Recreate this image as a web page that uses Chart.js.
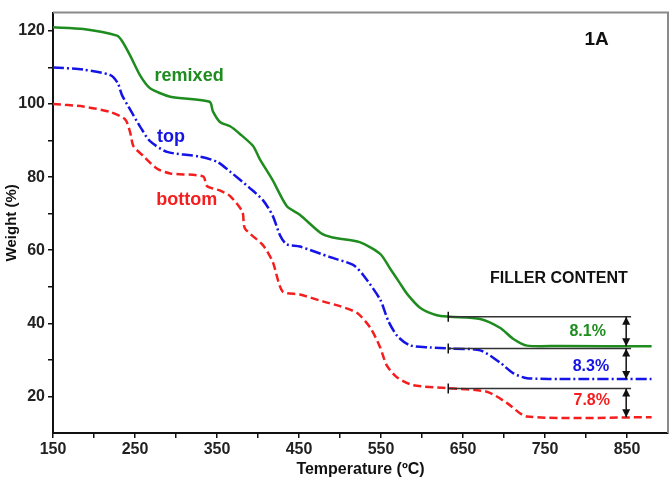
<!DOCTYPE html>
<html>
<head>
<meta charset="utf-8">
<script src="https://cdn.jsdelivr.net/npm/chart.js@4.4.0/dist/chart.umd.min.js"></script>
<style>
  html, body { margin: 0; padding: 0; background: #fff; }
  #wrap { width: 672px; height: 482px; }
</style>
</head>
<body>
<div id="wrap"><canvas id="tgaChart" width="672" height="482"></canvas></div>
<script>
// TGA curves
const tempRemixed = [150, 187, 228, 234, 244, 256, 268, 293, 341, 345, 354, 366, 378, 394, 402, 418, 435, 451, 476, 491, 524, 549, 561, 573, 582, 598, 618, 634, 671, 695, 711, 728, 768, 880];
const weightRemixed = [121, 120.5, 118.7, 117.3, 113.3, 107.9, 104.4, 102, 100.6, 98, 95, 93.9, 91.8, 88.5, 85, 79.1, 72.1, 69.7, 64.8, 63.5, 62.2, 59, 55, 51, 48, 44.2, 42.2, 41.8, 41.2, 38.8, 35.8, 33.9, 33.8, 33.7];

const tempTop = [150, 187, 220, 229, 234, 244, 256, 268, 289, 329, 350, 366, 390, 406, 418, 427, 435, 451, 488, 516, 528, 549, 559, 570, 585, 610, 634, 671, 695, 711, 728, 768, 880];
const weightTop = [110, 109.4, 107.9, 105.7, 102.5, 98.5, 93.9, 89.9, 86.9, 85.6, 84.2, 81.5, 77, 73.7, 69.4, 64, 61.6, 61, 58.1, 56, 53.3, 46.5, 40.6, 36.5, 34, 33.4, 33.1, 32.6, 29.3, 26.4, 25, 24.8, 24.8];

const tempBottom = [150, 187, 220, 238, 244, 248, 260, 277, 293, 333, 338, 354, 366, 381, 384, 406, 418, 430, 451, 479, 500, 521, 537, 549, 557, 569, 589, 630, 679, 703, 728, 880];
const weightBottom = [100, 99.3, 97.8, 95.8, 92.3, 88.5, 85.8, 82.3, 81, 80.2, 77.5, 76.3, 74.8, 70.5, 66, 61.4, 56.8, 48.7, 47.9, 46, 44.7, 42.8, 38.8, 33.4, 28.5, 25.3, 23.1, 22.3, 21.3, 18.3, 14.5, 14.3];

// axis ticks
const yTickValues = [20, 30, 40, 50, 60, 70, 80, 90, 100, 110, 120];
const xTickValues = [150, 200, 250, 300, 350, 400, 450, 500, 550, 600, 650, 700, 750, 800, 850];

// filler content markers
const fillerStart = 632;
const fillerEnd = 855;
const fillerArrowAt = 849;
const fillerLevels = [41.8, 33.1, 22.2];
const residueLevels = [33.7, 24.8, 14.3];
const fillerLabels = ['8.1%', '8.3%', '7.8%'];

const seriesNames = ['remixed', 'top', 'bottom'];
const seriesColors = ['#1e8c1e', '#1414e6', '#f51e1e'];

const toPoints = (xs, ys) => xs.map((x, i) => ({ x: x, y: ys[i] }));

const fillerLineSets = fillerLevels.map(level => ({
  data: [{ x: fillerStart, y: level }, { x: fillerEnd, y: level }],
  borderColor: '#333',
  borderWidth: 1.5,
  pointRadius: 0,
  tension: 0
}));

const curveSets = [
  { data: toPoints(tempRemixed, weightRemixed), borderColor: seriesColors[0], borderDash: [] },
  { data: toPoints(tempTop, weightTop), borderColor: seriesColors[1], borderDash: [11, 3, 2, 3] },
  { data: toPoints(tempBottom, weightBottom), borderColor: seriesColors[2], borderDash: [8, 4] }
].map((d, i) => Object.assign(d, {
  label: seriesNames[i],
  borderWidth: 2.5,
  pointRadius: 0,
  tension: 0.25
}));

const font = 'Liberation Sans, Arial, sans-serif';

const annotations = {
  id: 'annotations',
  afterDraw(chart) {
    const { ctx, chartArea, scales } = chart;
    const x = scales.x, y = scales.y;
    ctx.save();

    // gray box on top and right
    ctx.strokeStyle = '#8a8a8a';
    ctx.lineWidth = 2;
    ctx.beginPath();
    ctx.moveTo(chartArea.left, chartArea.top);
    ctx.lineTo(chartArea.right, chartArea.top);
    ctx.lineTo(chartArea.right, chartArea.bottom);
    ctx.stroke();

    // start marks and double arrows
    ctx.strokeStyle = '#111';
    ctx.fillStyle = '#111';
    ctx.lineWidth = 1.5;
    const ax = x.getPixelForValue(fillerArrowAt);
    fillerLevels.forEach((level, i) => {
      const sx = x.getPixelForValue(fillerStart);
      const sy = y.getPixelForValue(level);
      ctx.beginPath();
      ctx.moveTo(sx, sy - 5);
      ctx.lineTo(sx, sy + 5);
      ctx.stroke();

      const y1 = y.getPixelForValue(level);
      const y2 = y.getPixelForValue(residueLevels[i]);
      ctx.beginPath();
      ctx.moveTo(ax, y1);
      ctx.lineTo(ax, y2);
      ctx.stroke();
      [[y1, 1], [y2, -1]].forEach(([py, dir]) => {
        ctx.beginPath();
        ctx.moveTo(ax, py);
        ctx.lineTo(ax - 4, py + dir * 8);
        ctx.lineTo(ax + 4, py + dir * 8);
        ctx.closePath();
        ctx.fill();
      });
    });

    ctx.textAlign = 'center';
    ctx.textBaseline = 'middle';

    // curve names
    ctx.font = 'bold 18px ' + font;
    [[316, 107.6], [294, 90.9], [313, 73.7]].forEach((p, i) => {
      ctx.fillStyle = seriesColors[i];
      ctx.fillText(seriesNames[i], x.getPixelForValue(p[0]), y.getPixelForValue(p[1]));
    });

    // percentages
    ctx.font = 'bold 16px ' + font;
    [[802, 37.7], [806, 28.3], [807, 18.8]].forEach((p, i) => {
      ctx.fillStyle = seriesColors[i];
      ctx.fillText(fillerLabels[i], x.getPixelForValue(p[0]), y.getPixelForValue(p[1]));
    });

    ctx.fillStyle = '#111';
    ctx.font = 'bold 16px ' + font;
    ctx.fillText('FILLER CONTENT', x.getPixelForValue(767), y.getPixelForValue(52.2));
    ctx.font = 'bold 19px ' + font;
    ctx.fillText('1A', x.getPixelForValue(813), y.getPixelForValue(117.6));

    ctx.restore();
  }
};

const canvas = document.getElementById('tgaChart');
const ctx = canvas.getContext('2d');

window.tgaChart = new Chart(ctx, {
  type: 'line',
  data: { datasets: fillerLineSets.concat(curveSets) },
  options: {
    responsive: false,
    animation: false,
    layout: { padding: { top: 7, right: 4, left: 0, bottom: 0 } },
    plugins: {
      legend: { display: false },
      tooltip: { enabled: false }
    },
    scales: {
      x: {
        type: 'linear',
        min: 150,
        max: 900,
        afterFit: scale => { scale.height = 49; },
        afterBuildTicks: scale => { scale.ticks = xTickValues.map(v => ({ value: v })); },
        border: { color: '#111', width: 2 },
        grid: { drawOnChartArea: false, tickLength: 5, color: '#111', lineWidth: 1.5 },
        ticks: {
          padding: 2,
          maxRotation: 0,
          autoSkip: false,
          color: '#222',
          font: { family: font, size: 16, weight: 'bold' },
          callback: v => ((v - 150) % 100 === 0 ? v : '')
        },
        title: {
          display: true,
          text: 'Temperature (ºC)',
          color: '#111',
          font: { family: font, size: 16, weight: 'bold' },
          padding: { top: 0, bottom: 3 }
        }
      },
      y: {
        min: 10,
        max: 125,
        afterFit: scale => { scale.width = 53; },
        afterBuildTicks: scale => { scale.ticks = yTickValues.map(v => ({ value: v })); },
        border: { color: '#111', width: 2 },
        grid: { drawOnChartArea: false, tickLength: 5, color: '#111', lineWidth: 1.5 },
        ticks: {
          padding: 3,
          autoSkip: false,
          color: '#222',
          font: { family: font, size: 16, weight: 'bold' },
          callback: v => (v % 20 === 0 ? v : '')
        },
        title: {
          display: true,
          text: 'Weight (%)',
          color: '#111',
          font: { family: font, size: 15, weight: 'bold' },
          padding: { top: 3, bottom: 0 }
        }
      }
    }
  },
  plugins: [annotations]
});
</script>
</body>
</html>
